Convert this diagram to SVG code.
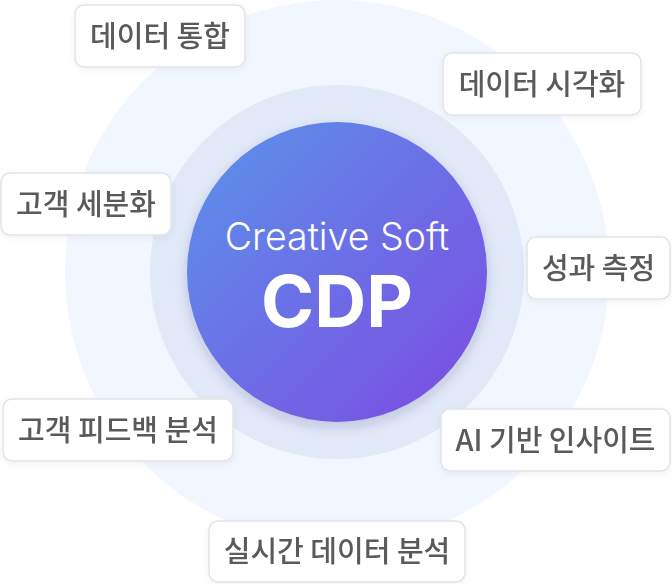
<svg xmlns="http://www.w3.org/2000/svg" width="672" height="584" viewBox="0 0 672 584">
  <style>
    .box rect { fill: #ffffff; stroke: #e4e4e6; stroke-width: 1.5; }
    .box text { font-family: "Noto Sans CJK KR", "Noto Sans", sans-serif; font-size: 29px; font-weight: 500; fill: #5a5a5a; text-anchor: middle; }
    .center text { font-family: Inter, "Noto Sans", sans-serif; fill: #ffffff; text-anchor: middle; }
  </style>
  <defs>
    <linearGradient id="core" x1="0" y1="0" x2="1" y2="1">
      <stop offset="0" stop-color="#5b93ea"/>
      <stop offset="1" stop-color="#7d4ae2"/>
    </linearGradient>
    <filter id="coreShadow" x="-20%" y="-20%" width="140%" height="150%">
      <feDropShadow dx="0" dy="5" stdDeviation="6" flood-color="#2a2a60" flood-opacity="0.18"/>
    </filter>
    <filter id="boxShadow" x="-10%" y="-20%" width="120%" height="150%">
      <feDropShadow dx="0" dy="2" stdDeviation="3" flood-color="#000000" flood-opacity="0.05"/>
    </filter>
  </defs>

  <g id="rings">
    <circle cx="337" cy="272" r="272" fill="#f2f6fe"/>
    <circle cx="337" cy="272" r="187" fill="#e1e8f8"/>
  </g>

  <g id="core-node" class="center">
    <circle cx="337" cy="272" r="150" fill="url(#core)" filter="url(#coreShadow)"/>
    <text x="337" y="250" font-size="37.5" font-weight="350">Creative Soft</text>
    <text x="337" y="327" font-size="72" font-weight="700">CDP</text>
  </g>

  <g id="connectors"></g>

  <g id="node-data-integration" class="box" filter="url(#boxShadow)">
    <rect x="75" y="5" width="170" height="62" rx="9"/>
    <text x="160" y="47">데이터 통합</text>
  </g>
  <g id="node-data-visualization" class="box" filter="url(#boxShadow)">
    <rect x="443" y="53" width="198" height="62" rx="9"/>
    <text x="542" y="95">데이터 시각화</text>
  </g>
  <g id="node-segmentation" class="box" filter="url(#boxShadow)">
    <rect x="1" y="173" width="170" height="62" rx="9"/>
    <text x="86" y="215">고객 세분화</text>
  </g>
  <g id="node-performance" class="box" filter="url(#boxShadow)">
    <rect x="527" y="237" width="143" height="62" rx="9"/>
    <text x="598.5" y="279">성과 측정</text>
  </g>
  <g id="node-feedback" class="box" filter="url(#boxShadow)">
    <rect x="3" y="399" width="230" height="62" rx="9"/>
    <text x="118" y="441">고객 피드백 분석</text>
  </g>
  <g id="node-ai" class="box" filter="url(#boxShadow)">
    <rect x="441" y="409" width="229" height="62" rx="9"/>
    <text x="555.5" y="451">AI 기반 인사이트</text>
  </g>
  <g id="node-realtime" class="box" filter="url(#boxShadow)">
    <rect x="209" y="521" width="256" height="61" rx="9"/>
    <text x="337" y="562">실시간 데이터 분석</text>
  </g>
</svg>
